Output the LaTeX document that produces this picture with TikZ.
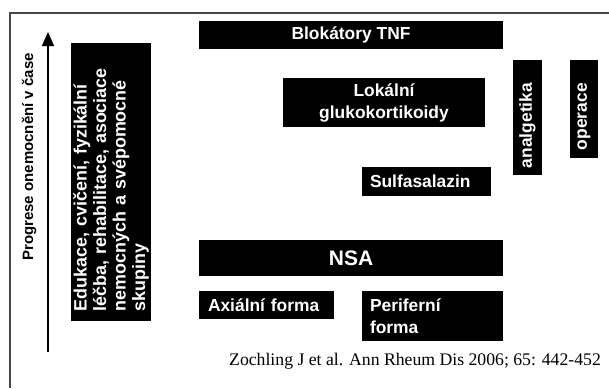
\documentclass[tikz,border=0pt]{standalone}
\usepackage{fontspec}
\usetikzlibrary{arrows.meta}
\newfontfamily\bsans{Liberation Sans}
\newfontfamily\citefont{Liberation Serif}
\tikzset{
  blk/.style={fill=black, text=white, inner ysep=0pt, outer sep=0pt,
    font=\bsans\bfseries\fontsize{17.4}{22}\selectfont},
  framel/.style={line width=1.6pt, draw=black!72},
  arr/.style={line width=1.3pt, -{Triangle[length=14pt,width=12pt]}}
}
\begin{document}
\begin{tikzpicture}[x=1pt,y=-1pt]
\useasboundingbox (0,0) rectangle (609,388);
\draw[framel] (609,13) -| (10,388);
% time arrow
\coordinate (a0) at (48,352);
\coordinate (a1) at (48,32);
\draw[arr] (a0) -- (a1);
\node[rotate=90, inner sep=0pt, font=\bsans\bfseries\fontsize{15}{18}\selectfont] (prog) at (29,157) {Progrese onemocnění v čase};
% boxes
\node[blk, rotate=90, minimum height=80pt, text width=258pt, inner xsep=10pt, align=left,
  font=\bsans\bfseries\fontsize{17.9}{19.5}\selectfont] (edu) at (111,182)
  {Edukace, cvičení, fyzikální\\léčba, rehabilitace, asociace\\nemocných a svépomocné\\skupiny};
\node[blk, minimum width=304pt, minimum height=28pt] (tnf) at (351,35) {Blokátory TNF};
\node[blk, minimum width=202pt, minimum height=49pt, align=center] (lok) at (384,102.5) {Lokální\\glukokortikoidy};
\node[blk, rotate=90, minimum height=29pt, text width=101pt, inner xsep=7pt, align=left] (analg) at (527.5,117.5) {analgetika};
\node[blk, rotate=90, minimum height=28pt, text width=82pt, inner xsep=8pt, align=left] (oper) at (584,109) {operace};
\node[blk, minimum height=29pt, text width=113pt, inner xsep=8pt, align=left] (sulfa) at (426.5,181.5) {Sulfasalazin};
\node[blk, minimum width=304pt, minimum height=36pt, font=\bsans\bfseries\fontsize{21}{24}\selectfont] (nsa) at (351,258) {NSA};
\node[blk, minimum height=28pt, text width=117pt, inner xsep=9pt, align=left] (axi) at (266.5,305) {Axiální forma};
\node[blk, minimum height=50pt, text width=125pt, inner xsep=8pt, align=left] (peri) at (432.5,316) {Periferní\\forma};
\node[anchor=base west, inner sep=0pt, font=\citefont\fontsize{17.7}{20}\selectfont] (cite) at (229,365) {Zochling J et al. Ann Rheum Dis 2006; 65: 442-452};
\end{tikzpicture}
\end{document}
